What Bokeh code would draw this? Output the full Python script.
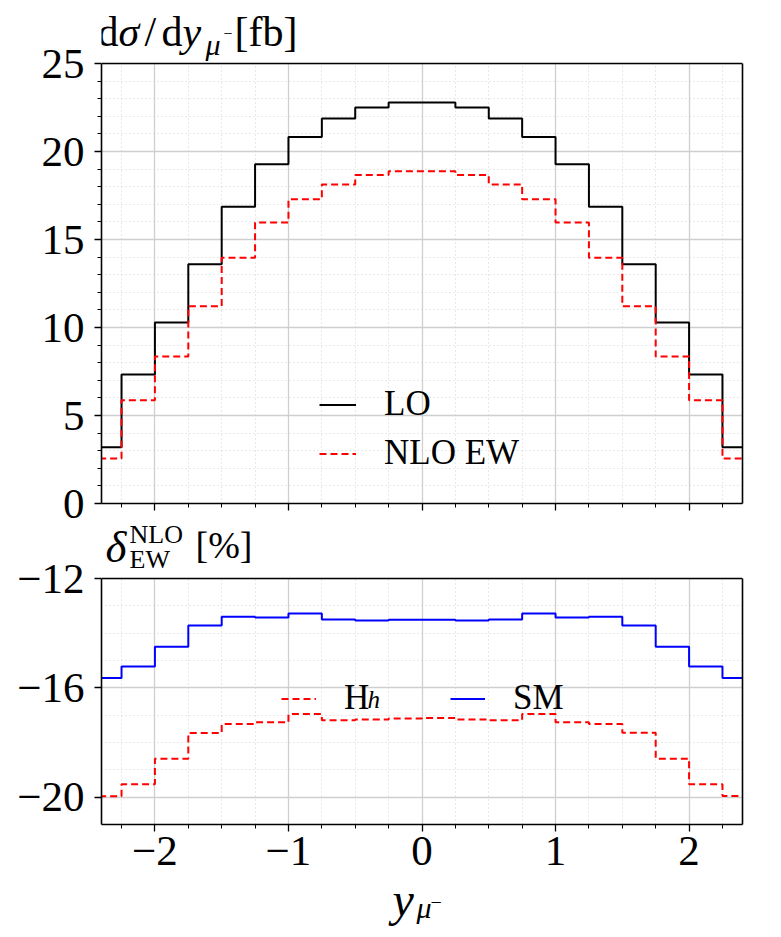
from bokeh.plotting import figure
from bokeh.models import (Range1d, FixedTicker, Label, Legend, LegendItem, LinearAxis,
                          BoxAnnotation, Span)
from bokeh.layouts import column
from bokeh.embed import file_html
from bokeh.resources import INLINE

# ---------------- data ----------------
bin_edges = [-2.5, -2.25, -2.0, -1.75, -1.5, -1.25, -1.0, -0.75, -0.5, -0.25, 0.0,
             0.25, 0.5, 0.75, 1.0, 1.25, 1.5, 1.75, 2.0, 2.25, 2.5]
lo = [3.20, 7.33, 10.28, 13.60, 16.86, 19.28, 20.83, 21.88, 22.50, 22.78,
      22.78, 22.50, 21.88, 20.83, 19.28, 16.86, 13.60, 10.28, 7.33, 3.20]
nlo_ew = [2.56, 5.87, 8.35, 11.21, 13.96, 15.97, 17.29, 18.13, 18.66, 18.88,
          18.88, 18.66, 18.13, 17.29, 15.97, 13.96, 11.21, 8.35, 5.87, 2.56]
delta_sm = [-15.64, -15.22, -14.50, -13.72, -13.40, -13.43, -13.28, -13.50, -13.54, -13.51,
            -13.51, -13.54, -13.50, -13.28, -13.43, -13.40, -13.72, -14.50, -15.22, -15.64]
delta_hh = [-19.97, -19.53, -18.59, -17.65, -17.32, -17.26, -16.96, -17.19, -17.16, -17.12,
            -17.10, -17.16, -17.19, -16.96, -17.26, -17.32, -17.64, -18.59, -19.53, -19.96]

x_major = [-2, -1, 0, 1, 2]
x_minor = [-2.25, -1.75, -1.5, -1.25, -0.75, -0.5, -0.25, 0.25, 0.5, 0.75,
           1.25, 1.5, 1.75, 2.25]
x_tick_labels = {-2: "\u22122", -1: "\u22121", 0: "0", 1: "1", 2: "2"}
top_y_major = [0, 5, 10, 15, 20, 25]
top_y_minor = [v for v in range(0, 25) if v % 5 != 0]
bot_y_major = [-20, -16, -12]
bot_y_minor = [-21, -19, -18, -17, -15, -14, -13]
bot_y_labels = {-20: "\u221220", -16: "\u221216", -12: "\u221212"}

FONT = "Liberation Serif"
BL, BR = 101, 31
FRAME_W = 641
W = BL + FRAME_W + BR

# page geometry (pixels)
TOP_FT, TOP_FB = 63, 503          # top panel box
BOT_FT, BOT_FB = 578, 824         # bottom panel box
TOP_H = 521                       # top figure: page 0..521
BOT_H = 359                       # bottom figure: page 521..880
XL_H = 55                         # x-label strip: page 880..935
Y0 = TOP_H + BOT_H

TOP_YMAX = 25 * (TOP_FB - 0) / (TOP_FB - TOP_FT)
BOT_YMAX = -12 + (BOT_FT - TOP_H) * 9.0 / (BOT_FB - BOT_FT)
BASE_FIX = 0.36   # svg label baseline correction (fraction of font size)


def style(p, y_major, y_minor, y_bounds):
    p.outline_line_color = None
    p.background_fill_color = "white"
    for ax in (p.xaxis[0], p.yaxis[0]):
        ax.axis_line_color = "black"
        ax.axis_line_width = 1.6
        ax.major_tick_line_color = "black"
        ax.minor_tick_line_color = "black"
        ax.major_tick_line_width = 1.3
        ax.minor_tick_line_width = 1.0
        ax.major_tick_in = 0
        ax.minor_tick_in = 0
        ax.major_tick_out = 7
        ax.minor_tick_out = 4
        ax.major_label_text_font = FONT
        ax.major_label_text_font_size = "43px"
        ax.major_label_text_color = "black"
    p.yaxis[0].bounds = y_bounds
    p.xaxis[0].ticker = FixedTicker(ticks=x_major, minor_ticks=x_minor)
    p.yaxis[0].ticker = FixedTicker(ticks=y_major, minor_ticks=y_minor)
    for g in (p.xgrid[0], p.ygrid[0]):
        g.grid_line_color = "#cfcfcf"
        g.grid_line_width = 1.3
        g.minor_grid_line_color = "#d2d2d2"
        g.minor_grid_line_width = 1.0
        g.minor_grid_line_dash = "1 3"
    # white mask over the text strip above the box, box top edge, right edge
    p.add_layout(BoxAnnotation(bottom=y_bounds[1], top=y_bounds[1] + 50, left=-3, right=3,
                               fill_color="white", fill_alpha=1.0, line_alpha=0,
                               level="underlay"))
    p.add_layout(Span(location=y_bounds[1], dimension="width", line_color="black",
                      line_width=1.6))
    rax = LinearAxis(bounds=y_bounds, ticker=FixedTicker(ticks=[]), major_tick_out=0,
                     minor_tick_out=0, axis_line_color="black", axis_line_width=1.6,
                     major_label_text_font_size="0px")
    p.add_layout(rax, "right")


def steps(vals):
    return list(vals) + [vals[-1]]


def xd(px):
    return -2.4 + (px - BL) * 4.8 / FRAME_W


def yd_top(py):
    return 25 - (py - TOP_FT) * 25.0 / (TOP_FB - TOP_FT)


def yd_bot(py):
    return -12 - (py - BOT_FT) * 9.0 / (BOT_FB - BOT_FT)


def yd_xl(py):
    return py - Y0


def lab(p, conv, text, px, py, size, italic=False):
    y = conv(py - BASE_FIX * size)
    p.add_layout(Label(x=xd(px), y=y, text=text, text_font=FONT, level="overlay",
                       text_font_size=f"{size}px",
                       text_font_style="italic" if italic else "normal",
                       text_align="left", text_baseline="alphabetic", text_color="black"))


# ---------------- top panel ----------------
top = figure(width=W, height=TOP_H, x_range=Range1d(-2.4, 2.4),
             y_range=Range1d(0, TOP_YMAX),
             output_backend="svg", toolbar_location=None,
             min_border_left=BL, min_border_right=BR, min_border_top=0,
             min_border_bottom=TOP_H - TOP_FB)
style(top, top_y_major, top_y_minor, (0, 25))
top.xaxis[0].major_label_overrides = {k: "" for k in x_major}
top.xaxis[0].major_label_text_font_size = "0px"
top.xaxis[0].major_label_standoff = 0
top.yaxis[0].major_label_standoff = 10

r_lo = top.step(bin_edges, steps(lo), mode="after", line_color="black", line_width=2)
r_nlo = top.step(bin_edges, steps(nlo_ew), mode="after", line_color="red", line_width=2,
                 line_dash="7 4")

leg_top = Legend(items=[LegendItem(label="LO", renderers=[r_lo]),
                        LegendItem(label="NLO EW", renderers=[r_nlo])],
                 location=(218, 30), orientation="vertical")
leg_top.background_fill_alpha = 0
leg_top.border_line_alpha = 0
leg_top.padding = 0
leg_top.margin = 0
leg_top.glyph_width = 37
leg_top.glyph_height = 35
leg_top.label_height = 35
leg_top.label_standoff = 28
leg_top.spacing = 9
leg_top.label_text_font = FONT
leg_top.label_text_font_size = "35px"
leg_top.label_text_color = "black"
top.add_layout(leg_top)

# title pieces: d sigma / d y_mu- [fb]
lab(top, yd_top, "d", 97, 47, 42)
lab(top, yd_top, "\u03c3", 118, 47, 42, italic=True)
lab(top, yd_top, "/", 144, 47, 42)
lab(top, yd_top, "d", 161, 47, 42)
lab(top, yd_top, "y", 182, 47, 42, italic=True)
lab(top, yd_top, "\u03bc", 205, 55, 30, italic=True)
lab(top, yd_top, "\u2212", 223, 39, 16)
lab(top, yd_top, "[fb]", 234, 47, 42)

# ---------------- bottom panel ----------------
bot = figure(width=W, height=BOT_H, x_range=top.x_range, y_range=Range1d(-21, BOT_YMAX),
             output_backend="svg", toolbar_location=None,
             min_border_left=BL, min_border_right=BR, min_border_top=0,
             min_border_bottom=BOT_H - (BOT_FB - TOP_H))
style(bot, bot_y_major, bot_y_minor, (-21, -12))
bot.yaxis[0].minor_tick_out = 0
bot.xaxis[0].major_label_overrides = x_tick_labels
bot.yaxis[0].major_label_overrides = bot_y_labels
bot.xaxis[0].major_label_standoff = 5
bot.yaxis[0].major_label_standoff = 10

r_hh = bot.step(bin_edges, steps(delta_hh), mode="after", line_color="red", line_width=2,
                line_dash="7 4")
r_sm = bot.step(bin_edges, steps(delta_sm), mode="after", line_color="blue", line_width=2)

leg_bot = Legend(items=[LegendItem(label="H", renderers=[r_hh]),
                        LegendItem(label="SM", renderers=[r_sm])],
                 location=(180, 106), orientation="horizontal")
leg_bot.background_fill_alpha = 0
leg_bot.border_line_alpha = 0
leg_bot.padding = 0
leg_bot.margin = 0
leg_bot.glyph_width = 35
leg_bot.glyph_height = 35
leg_bot.label_height = 35
leg_bot.label_width = 60
leg_bot.label_standoff = 28
leg_bot.spacing = 46
leg_bot.label_text_font = FONT
leg_bot.label_text_font_size = "35px"
leg_bot.label_text_color = "black"
bot.add_layout(leg_bot)
lab(bot, yd_bot, "h", 367, 708, 25, italic=True)

# bottom title: delta_EW^NLO [%]
lab(bot, yd_bot, "\u03b4", 105, 563, 45, italic=True)
lab(bot, yd_bot, "NLO", 129, 543, 26)
lab(bot, yd_bot, "EW", 129, 568, 26)
lab(bot, yd_bot, "[%]", 195, 558, 38)

# ---------------- x-axis label strip ----------------
xl = figure(width=W, height=XL_H, x_range=top.x_range, y_range=Range1d(XL_H, 0),
            x_axis_type=None, y_axis_type=None, output_backend="svg",
            toolbar_location=None, min_border_left=BL, min_border_right=BR,
            min_border_top=0, min_border_bottom=0)
xl.outline_line_color = None
xl.grid.visible = False
lab(xl, yd_xl, "y", 392, 916, 48, italic=True)
lab(xl, yd_xl, "\u03bc", 416, 918, 30, italic=True)
lab(xl, yd_xl, "\u2212", 430, 909, 20)

layout = column(top, bot, xl)
open("out.html", "w").write(file_html(layout, INLINE))
